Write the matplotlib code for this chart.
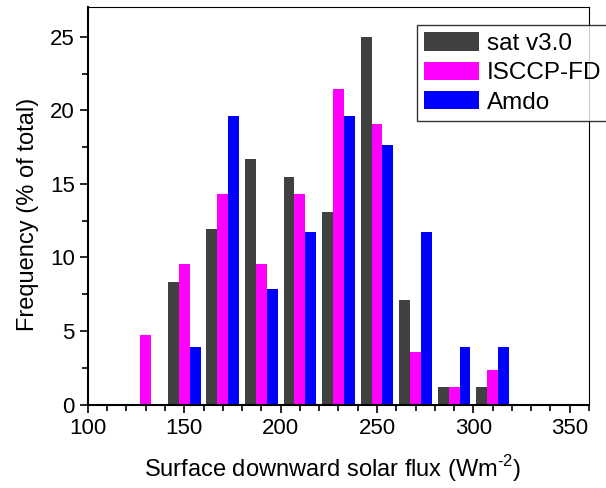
import numpy as np
import matplotlib.pyplot as plt
from matplotlib.ticker import MultipleLocator

plt.rcParams['font.family'] = ['Liberation Sans', 'DejaVu Sans']
plt.rcParams['mathtext.fontset'] = 'custom'
plt.rcParams['mathtext.rm'] = 'Liberation Sans'

# bin centres of surface downward solar flux (W m-2)
bins = [130, 150, 170, 190, 210, 230, 250, 270, 290, 310]

# frequency (% of total) per bin
sat_v3 = [0, 8.33, 11.90, 16.67, 15.48, 13.10, 25.00, 7.14, 1.19, 1.19]
isccp_fd = [4.76, 9.52, 14.29, 9.52, 14.29, 21.43, 19.05, 3.57, 1.19, 2.38]
amdo = [0, 3.92, 19.61, 7.84, 11.76, 19.61, 17.65, 11.76, 3.92, 3.92]

series = [("sat v3.0", sat_v3, "#404040"),
          ("ISCCP-FD", isccp_fd, "#ff00ff"),
          ("Amdo", amdo, "#0000ff")]

fig = plt.figure(figsize=(6.06, 4.88), dpi=100)
ax = fig.add_axes([0.145, 0.171, 0.827, 0.814])

w = 5.67
x = np.array(bins, dtype=float)
for i, (name, vals, col) in enumerate(series):
    ax.bar(x + (i - 1) * w, vals, width=w, color=col, label=name, linewidth=0)

ax.set_xlim(100, 360)
ax.set_ylim(0, 27)
ax.xaxis.set_major_locator(MultipleLocator(50))
ax.xaxis.set_minor_locator(MultipleLocator(10))
ax.yaxis.set_major_locator(MultipleLocator(5))
ax.yaxis.set_minor_locator(MultipleLocator(2.5))
ax.tick_params(which='major', direction='out', length=6, width=1.2, labelsize=16)
ax.tick_params(which='minor', direction='out', length=4, width=1.2)
ax.tick_params(top=False, right=False, which='both')

for s in ('left', 'bottom'):
    ax.spines[s].set_linewidth(1.5)
for s in ('top', 'right'):
    ax.spines[s].set_linewidth(0.8)

ax.set_xlabel("Surface downward solar flux (Wm$^{\\text{-2}}$)", fontsize=17, labelpad=10)
ax.set_ylabel("Frequency (% of total)", fontsize=17, labelpad=8)
ax.xaxis.label.set_x(0.489)
ax.yaxis.label.set_y(0.48)

leg = ax.legend(loc='upper left', bbox_to_anchor=(417 / 606, 1 - 25 / 488),
                bbox_transform=fig.transFigure, fontsize=17.5, frameon=True,
                fancybox=False, edgecolor='black', borderaxespad=0,
                handlelength=2.25, handleheight=0.8, handletextpad=0.33,
                labelspacing=0.27, borderpad=0.3)
leg.get_frame().set_linewidth(1.0)
leg.set_clip_on(False)

fig.savefig("out.png", dpi=100)
